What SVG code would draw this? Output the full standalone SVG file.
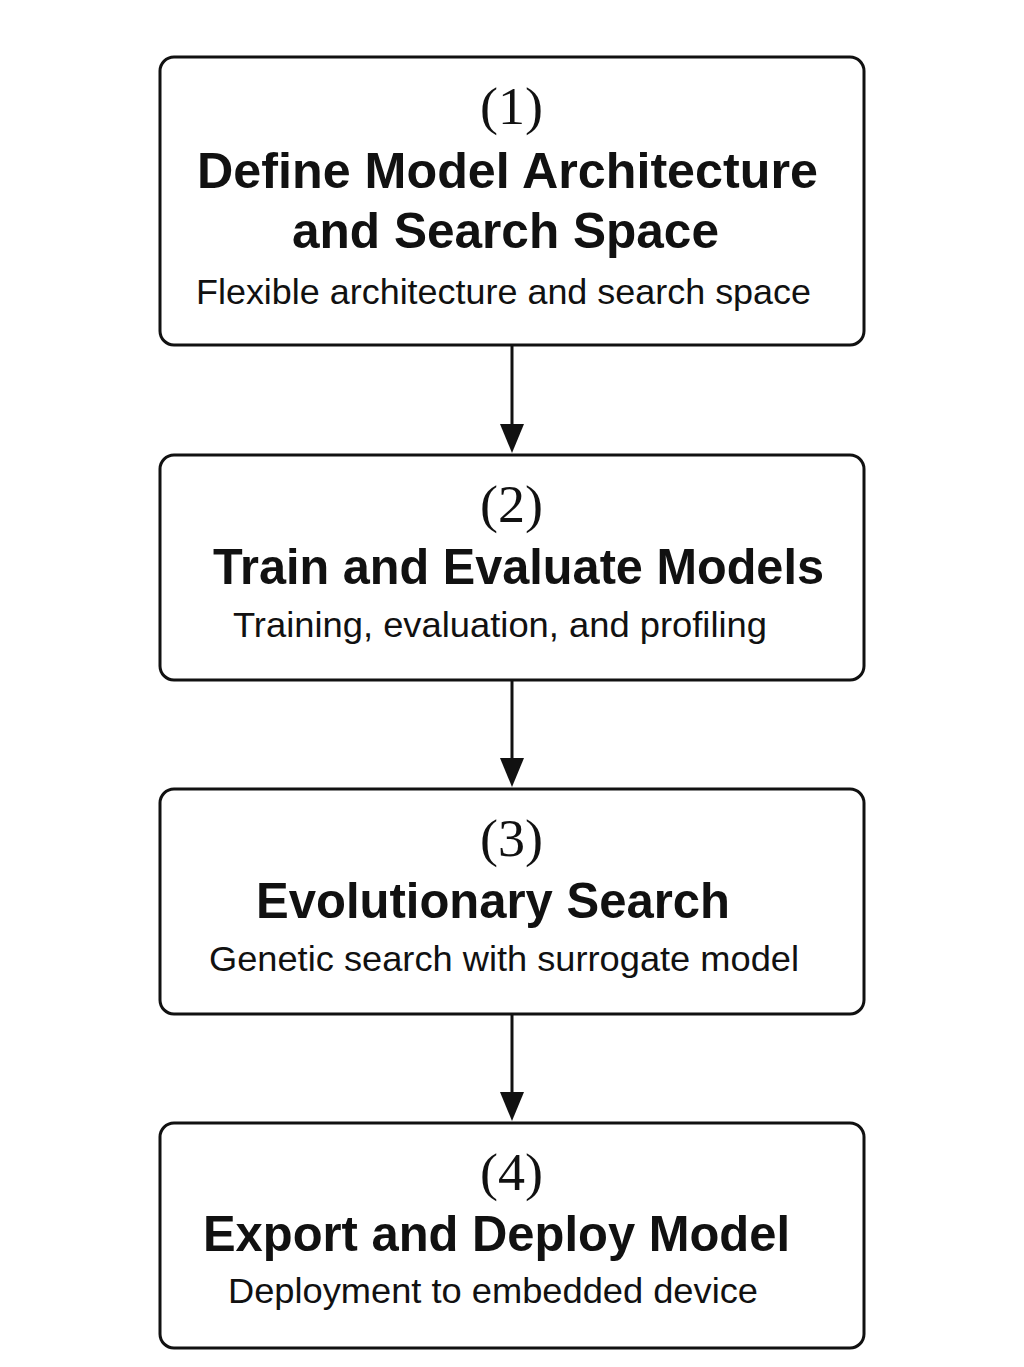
<svg xmlns="http://www.w3.org/2000/svg" width="1024" height="1367" viewBox="0 0 1024 1367">
<style>
.box{fill:#fff;stroke:#111;stroke-width:3}
.num{font-family:"Liberation Serif","Times New Roman",serif;font-size:53px;fill:#111}
.ttl{font-family:"Liberation Sans",Arial,sans-serif;font-size:50px;font-weight:bold;fill:#111}
.sub{font-family:"Liberation Sans",Arial,sans-serif;font-size:35px;fill:#111}
.edge{stroke:#111;stroke-width:3;fill:none}
.head{fill:#111}
</style>
<rect width="1024" height="1367" fill="#fff"/>
<g id="connectors">
<line class="edge" x1="512" y1="346" x2="512" y2="426"/>
<polygon class="head" points="500,424 524,424 512,453"/>
<line class="edge" x1="512" y1="680" x2="512" y2="760"/>
<polygon class="head" points="500,758 524,758 512,787"/>
<line class="edge" x1="512" y1="1014" x2="512" y2="1094"/>
<polygon class="head" points="500,1092 524,1092 512,1121"/>
</g>
<g id="node1">
<rect class="box" x="160" y="57" width="704" height="288" rx="14"/>
<text class="num" x="480" y="124" textLength="63" lengthAdjust="spacingAndGlyphs">(1)</text>
<text class="ttl" x="197" y="188" textLength="621" lengthAdjust="spacingAndGlyphs">Define Model Architecture</text>
<text class="ttl" x="292" y="248" textLength="427" lengthAdjust="spacingAndGlyphs">and Search Space</text>
<text class="sub" x="196" y="304" textLength="615" lengthAdjust="spacingAndGlyphs">Flexible architecture and search space</text>
</g>
<g id="node2">
<rect class="box" x="160" y="455" width="704" height="225" rx="14"/>
<text class="num" x="480" y="522" textLength="63" lengthAdjust="spacingAndGlyphs">(2)</text>
<text class="ttl" x="213" y="584" textLength="611" lengthAdjust="spacingAndGlyphs">Train and Evaluate Models</text>
<text class="sub" x="233" y="637" textLength="534" lengthAdjust="spacingAndGlyphs">Training, evaluation, and profiling</text>
</g>
<g id="node3">
<rect class="box" x="160" y="789" width="704" height="225" rx="14"/>
<text class="num" x="480" y="856" textLength="63" lengthAdjust="spacingAndGlyphs">(3)</text>
<text class="ttl" x="256" y="918" textLength="474" lengthAdjust="spacingAndGlyphs">Evolutionary Search</text>
<text class="sub" x="209" y="971" textLength="590" lengthAdjust="spacingAndGlyphs">Genetic search with surrogate model</text>
</g>
<g id="node4">
<rect class="box" x="160" y="1123" width="704" height="225" rx="14"/>
<text class="num" x="480" y="1190" textLength="63" lengthAdjust="spacingAndGlyphs">(4)</text>
<text class="ttl" x="203" y="1251" textLength="587" lengthAdjust="spacingAndGlyphs">Export and Deploy Model</text>
<text class="sub" x="228" y="1303" textLength="530" lengthAdjust="spacingAndGlyphs">Deployment to embedded device</text>
</g>
</svg>
